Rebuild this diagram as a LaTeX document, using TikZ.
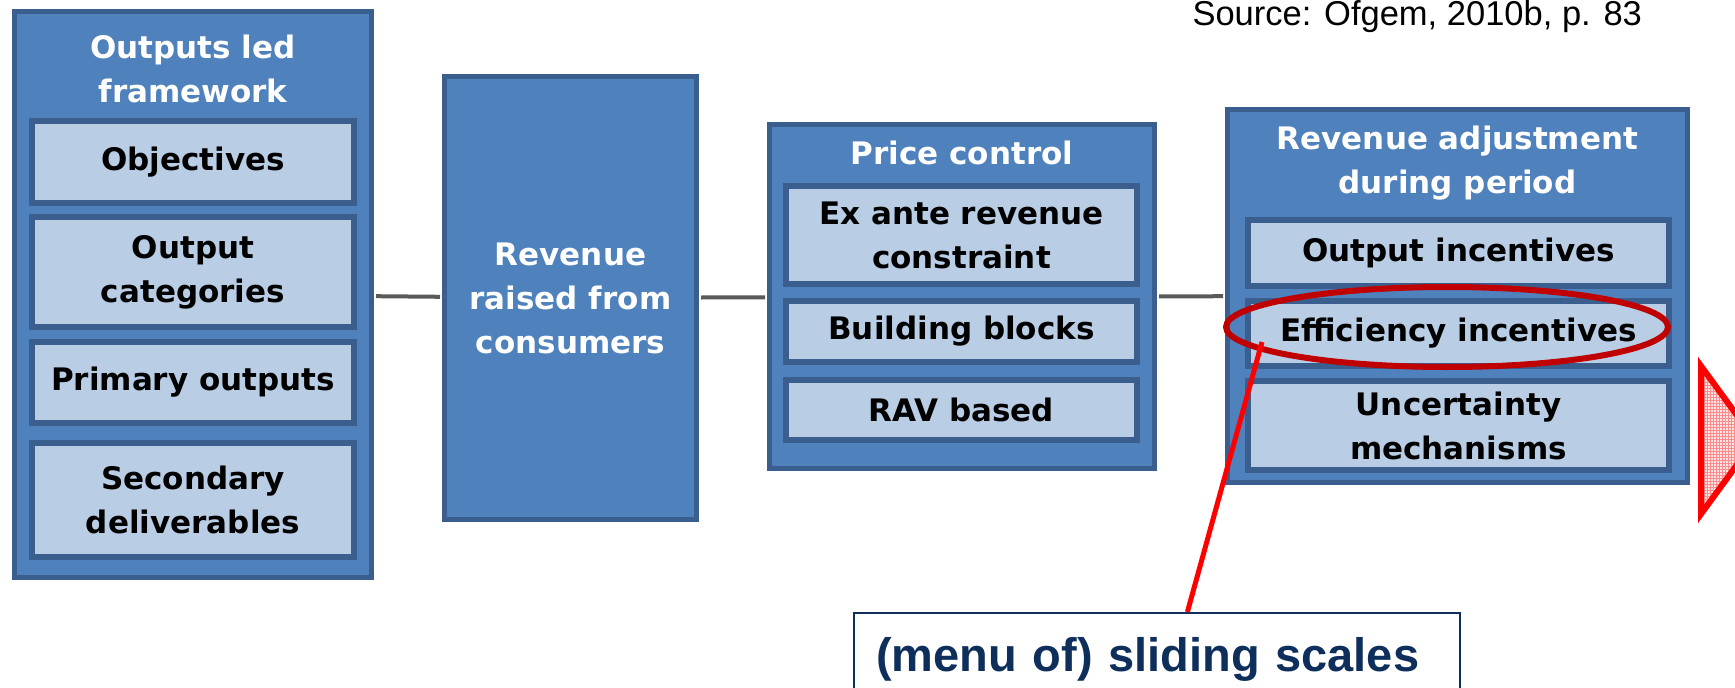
\documentclass[tikz,border=0pt]{standalone}
\usepackage{fontspec}
\setmainfont{DejaVu Sans}
\newfontfamily\arialfont{Liberation Sans}
\usetikzlibrary{shapes.geometric,patterns,calc}
\definecolor{boxblue}{HTML}{4F81BD}
\definecolor{boxedge}{HTML}{3A5F8E}
\definecolor{boxlight}{HTML}{B9CDE5}
\definecolor{linkgray}{HTML}{5A5A5A}
\definecolor{ringred}{HTML}{C00000}
\definecolor{notenavy}{HTML}{0E2F5B}
\newcommand{\boxtext}{\fontsize{31}{44}\selectfont\bfseries}
\tikzstyle{outerbox}=[rectangle,draw=boxedge,fill=boxblue,line width=5pt,inner sep=0pt]
\tikzstyle{innerbox}=[rectangle,draw=boxedge,fill=boxlight,line width=6pt,inner sep=0pt,align=center,font=\boxtext]
\tikzstyle{heading}=[text=white,align=center,font=\boxtext]
\tikzstyle{link} = [draw,line width=4pt,linkgray,shorten <=2pt,shorten >=2pt]
\tikzstyle{ring} = [ellipse,draw=ringred,line width=6pt,inner sep=0pt]
\tikzstyle{pointer} = [draw,red,line width=5pt]
\tikzstyle{note} = [rectangle,draw=notenavy,line width=2pt,inner xsep=21pt,text=notenavy,align=left,font=\arialfont\fontsize{47}{56}\selectfont\bfseries]

\begin{document}
\begin{tikzpicture}[x=1pt,y=-1pt]
    \useasboundingbox (0,0) rectangle (1735,688);
    % First the four big blue boxes
    \node[outerbox,minimum width=357,minimum height=566] (olf) at (193,294.5) {};
    \node[outerbox,minimum width=252,minimum height=443,heading] (rev) at (570.5,298) {Revenue\\raised from\\consumers};
    \node[outerbox,minimum width=385,minimum height=344] (pc) at (962,296.5) {};
    \node[outerbox,minimum width=460,minimum height=373] (radp) at (1457.5,296) {};

    % Titles of the boxes
    \node[heading] (olf-t) at (193,69) {Outputs led\\framework};
    \node[heading] (pc-t) at (962,153) {Price control};
    \node[heading] (radp-t) at (1457.5,163) {Revenue adjustment\\during period};

    % Then the light boxes inside them
    \foreach \pos/\h/\name/\txt in {{(193,162)/82/obj/Objectives},{(193,272)/110/cat/{Output\\categories}},
        {(193,382.5)/81/prim/Primary outputs},{(193,500)/114/sec/{Secondary\\deliverables}}}
        \node[innerbox,minimum width=322,minimum height=\h] (\name) at \pos {\txt};

    \foreach \pos/\h/\name/\txt in {{(961.5,235)/98/exa/{Ex ante revenue\\constraint}},
        {(961.5,331.5)/61/bb/Building blocks},{(961.5,410)/60/rav/RAV based}}
        \node[innerbox,minimum width=351,minimum height=\h] (\name) at \pos {\txt};

    \foreach \pos/\h/\name/\txt in {{(1458.5,253)/66/oi/Output incentives},
        {(1458.5,333.5)/65/eff/Efficiency incentives},{(1458.5,425.5)/89/unc/{Uncertainty\\mechanisms}}}
        \node[innerbox,minimum width=421,minimum height=\h] (\name) at \pos {\txt};

    % Connect the boxes
    \foreach \source/\dest in {olf/rev, rev/pc, pc/radp}
        \path[link] (\source) -- (\dest);

    % Red ring and the note
    \node[ring,minimum width=442,minimum height=80] (ring) at (1447,327) {};
    \node[note,anchor=north west,minimum width=606,minimum height=92,text width=562] (note) at (853,612) {(menu of) sliding scales};
    \coordinate (pin) at (1262,342);
    \path[pointer] (pin) -- ($(note.north west)!0.55!(note.north east)$);

    \draw[draw=red,line width=6pt,pattern=grid,pattern color=red!45,preaction={fill=red!10}] (1701,366) -- (1755,440) -- (1701,514) -- cycle;

    \node[anchor=base west,font=\arialfont\fontsize{34.5}{42}\selectfont] (src) at (1189,25) {Source: Ofgem, 2010b, p. 83};
\end{tikzpicture}
\end{document}
